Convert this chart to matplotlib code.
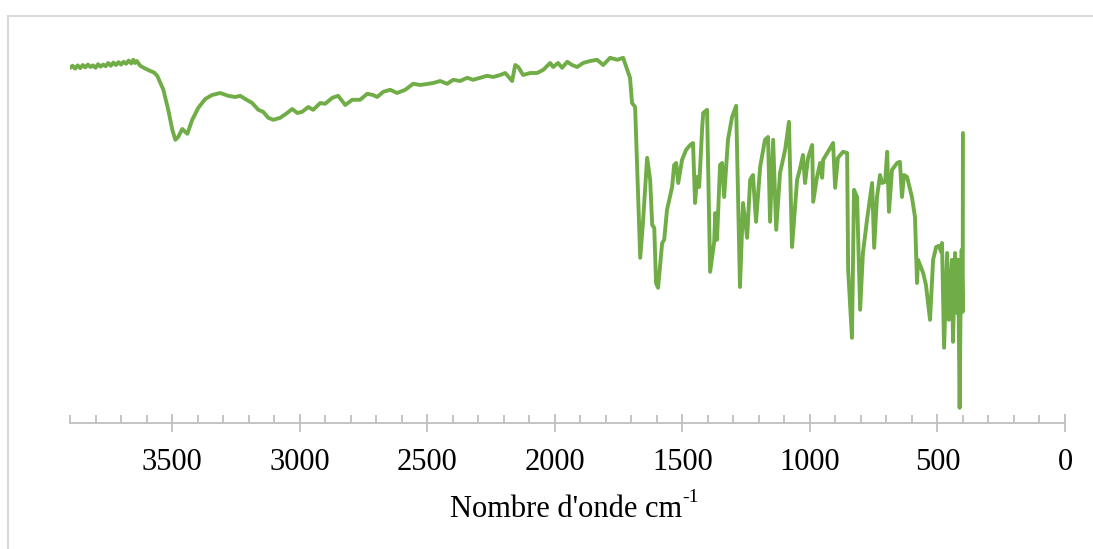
import matplotlib
matplotlib.use("Agg")
import matplotlib.pyplot as plt
from matplotlib.patches import Rectangle
from matplotlib.ticker import MultipleLocator

plt.rcParams["font.family"] = ["Liberation Serif", "DejaVu Serif"]

# IR spectrum: wavenumber (cm-1) and transmittance (%)
wavenumber = [
    3900, 3890, 3880, 3870, 3860, 3850, 3840, 3830, 3820, 3810, 3800, 3790,
    3780, 3770, 3760, 3750, 3740, 3730, 3720, 3710, 3700, 3690, 3680, 3670,
    3660, 3652, 3645, 3638, 3625, 3605, 3585, 3570, 3558, 3534, 3515, 3499,
    3487, 3476, 3460, 3440, 3421, 3397, 3370, 3343, 3311, 3280, 3253, 3233,
    3213, 3186, 3162, 3143, 3123, 3103, 3076, 3049, 3029, 3009, 2990, 2966,
    2947, 2919, 2900, 2872, 2849, 2821, 2794, 2763, 2735, 2712, 2696, 2672,
    2645, 2618, 2586, 2555, 2527, 2476, 2449, 2422, 2398, 2371, 2343, 2320,
    2292, 2265, 2241, 2214, 2194, 2167, 2155, 2143, 2124, 2096, 2069, 2045,
    2018, 2006, 1987, 1971, 1951, 1932, 1912, 1889, 1861, 1834, 1810, 1783,
    1755, 1732, 1716, 1705, 1697, 1685, 1665, 1654, 1638, 1626, 1618, 1610,
    1603, 1595, 1579, 1571, 1560, 1540, 1532, 1524, 1516, 1501, 1485, 1469,
    1458, 1450, 1442, 1434, 1422, 1418, 1403, 1391, 1375, 1371, 1364, 1352,
    1344, 1336, 1321, 1305, 1289, 1274, 1262, 1246, 1234, 1223, 1211, 1195,
    1176, 1164, 1156, 1144, 1132, 1117, 1097, 1082, 1070, 1050, 1038, 1027,
    1019, 1007, 991, 987, 972, 960, 952, 948, 929, 909, 901, 890,
    870, 854, 850, 835, 827, 815, 803, 792, 776, 756, 748, 737,
    725, 717, 705, 697, 690, 678, 658, 647, 639, 631, 619, 600,
    588, 580, 576, 556, 545, 529, 517, 505, 494, 486, 482, 474,
    462, 455, 443, 439, 431, 423, 419, 413, 409, 405, 401, 400,
]
transmittance = [
    88.8, 89.3, 88.6, 89.4, 88.7, 89.5, 88.9, 89.6, 89.0, 89.4, 88.8, 89.7,
    89.1, 89.6, 89.2, 90.0, 89.3, 90.1, 89.5, 90.2, 89.6, 90.3, 89.8, 90.6,
    89.9, 90.8, 90.0, 90.5, 89.3, 88.6, 88.0, 87.6, 86.8, 83.3, 78.3, 73.3,
    70.8, 71.5, 73.5, 72.3, 75.8, 78.8, 81.0, 82.0, 82.5, 81.8, 81.5, 81.8,
    81.0, 80.0, 78.3, 77.8, 76.3, 75.8, 76.3, 77.5, 78.5, 77.5, 77.8, 79.0,
    78.3, 80.0, 79.8, 81.3, 81.8, 79.5, 80.8, 80.8, 82.3, 82.0, 81.5, 82.8,
    83.3, 82.5, 83.3, 84.8, 84.5, 85.0, 85.5, 84.8, 85.8, 85.5, 86.3, 85.8,
    86.3, 86.8, 86.5, 87.0, 87.5, 85.5, 89.5, 89.0, 87.0, 87.5, 87.5, 88.3,
    90.0, 89.0, 90.0, 88.8, 90.3, 89.5, 89.0, 90.0, 90.5, 90.8, 89.5, 91.3,
    90.8, 91.3, 88.3, 86.3, 80.0, 79.0, 41.3, 50.3, 66.3, 60.8, 49.5, 48.8,
    35.0, 33.8, 45.0, 45.8, 53.3, 59.0, 64.5, 65.0, 60.0, 65.8, 68.3, 69.5,
    70.0, 55.0, 61.5, 59.0, 74.0, 77.5, 78.3, 37.8, 45.3, 52.5, 45.8, 64.5,
    65.0, 56.5, 70.8, 76.5, 79.3, 34.0, 55.0, 46.3, 60.8, 62.0, 50.3, 64.0,
    70.8, 71.5, 50.3, 70.8, 48.3, 62.5, 68.3, 75.3, 44.0, 60.8, 63.8, 67.0,
    60.0, 66.3, 69.5, 55.3, 61.5, 65.0, 61.3, 65.8, 67.8, 70.0, 58.8, 66.3,
    67.8, 67.5, 38.3, 21.3, 58.3, 56.5, 28.3, 42.5, 50.8, 60.0, 43.8, 56.5,
    62.0, 60.0, 60.3, 67.8, 52.8, 63.3, 65.0, 65.3, 56.5, 62.0, 61.5, 56.5,
    51.5, 35.0, 40.8, 37.5, 34.5, 25.8, 40.8, 44.0, 44.3, 42.8, 45.0, 18.8,
    42.5, 25.8, 40.8, 20.3, 42.5, 27.5, 40.8, 3.8, 30.8, 43.3, 27.8, 72.5,
]

W, H = 1093, 549
fig = plt.figure(figsize=(W / 100, H / 100), dpi=100)
ax = fig.add_axes([70 / W, 1 - 423 / H, (1065 - 70) / W, 400 / H])

ax.plot(wavenumber, transmittance, color="#70AD47", lw=2.8,
        solid_joinstyle="round", solid_capstyle="round")

ax.set_xlim(3900, 0)
ax.set_ylim(0, 100)

axis_grey = "#BFBFBF"
for side in ("left", "right", "top"):
    ax.spines[side].set_visible(False)
ax.spines["bottom"].set_color(axis_grey)
ax.spines["bottom"].set_linewidth(1.3)

ax.xaxis.set_major_locator(MultipleLocator(500))
ax.xaxis.set_minor_locator(MultipleLocator(100))
ax.tick_params(axis="x", which="major", direction="inout", length=12.5,
               width=1.3, color=axis_grey, labelsize=22, pad=12)
ax.tick_params(axis="x", which="minor", direction="in", length=6,
               width=1.3, color=axis_grey)
ax.set_yticks([])

# axis title with a plain hyphen superscript, as in the original
lbl = fig.text(682 / W, 1 - 517 / H, "Nombre d'onde cm", fontsize=22,
               ha="right", va="baseline")
ax.annotate("-1", xy=(1.0, 0.62), xycoords=lbl, fontsize=14,
            ha="left", va="bottom")

# chart-area border (cut off on the right and bottom in the original)
fig.patches.append(Rectangle((8 / W, -0.1), 1.2, 1.1 - 16 / H,
                             transform=fig.transFigure, fill=False,
                             edgecolor="#D9D9D9", lw=1.5))

fig.savefig("out.png", dpi=100)
